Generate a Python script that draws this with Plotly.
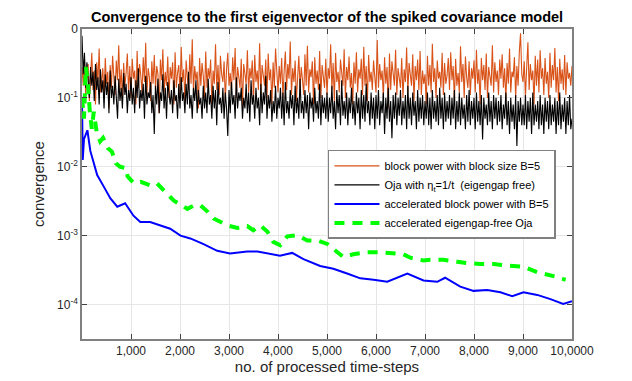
import plotly.graph_objects as go

# time steps for the two noisy (stochastic) curves
steps = list(range(0, 10001, 25))

block_power = [
    0.28, 0.15, 0.36, 0.11, 0.22, 0.31, 0.09, 0.19, 0.45, 0.13, 0.25, 0.08, 0.33, 0.17, 0.52, 0.12, 0.21, 0.27, 0.10, 0.38,
    0.16, 0.24, 0.07, 0.30, 0.14, 0.41, 0.20, 0.11, 0.35, 0.18, 0.58, 0.13, 0.26, 0.09, 0.32, 0.15, 0.23, 0.44, 0.12, 0.29,
    0.10, 0.37, 0.19, 0.25, 0.08, 0.48, 0.14, 0.31, 0.21, 0.12, 0.39, 0.17, 0.63, 0.11, 0.27, 0.20, 0.09, 0.34, 0.16, 0.42,
    0.13, 0.29, 0.22, 0.06, 0.36, 0.18, 0.51, 0.12, 0.24, 0.15, 0.40, 0.10, 0.28, 0.19, 0.33, 0.08, 0.46, 0.14, 0.23, 0.30,
    0.11, 0.55, 0.17, 0.26, 0.09, 0.35, 0.20, 0.13, 0.43, 0.16, 0.71, 0.12, 0.29, 0.18, 0.24, 0.07, 0.38, 0.15, 0.32, 0.21,
    0.10, 0.47, 0.14, 0.27, 0.19, 0.36, 0.08, 0.25, 0.16, 0.60, 0.13, 0.30, 0.11, 0.41, 0.22, 0.17, 0.34, 0.09, 0.26, 0.45,
    0.15, 0.23, 0.12, 0.39, 0.18, 0.53, 0.10, 0.28, 0.20, 0.14, 0.37, 0.07, 0.31, 0.24, 0.16, 0.49, 0.12, 0.27, 0.19, 0.35,
    0.09, 0.42, 0.17, 0.25, 0.13, 0.62, 0.11, 0.30, 0.21, 0.15, 0.36, 0.10, 0.44, 0.18, 0.26, 0.08, 0.33, 0.14, 0.52, 0.20,
    0.12, 0.29, 0.16, 0.38, 0.10, 0.24, 0.47, 0.13, 0.31, 0.19, 0.66, 0.11, 0.27, 0.17, 0.35, 0.09, 0.22, 0.41, 0.14, 0.28,
    0.18, 0.11, 0.43, 0.15, 0.57, 0.12, 0.26, 0.20, 0.34, 0.08, 0.39, 0.16, 0.25, 0.13, 0.48, 0.10, 0.30, 0.21, 0.14, 0.37,
    0.11, 0.27, 0.19, 0.60, 0.13, 0.32, 0.09, 0.45, 0.17, 0.24, 0.12, 0.36, 0.20, 0.15, 0.51, 0.10, 0.28, 0.18, 0.40, 0.14,
    0.23, 0.08, 0.33, 0.16, 0.46, 0.12, 0.26, 0.19, 0.37, 0.11, 0.55, 0.15, 0.29, 0.09, 0.42, 0.17, 0.24, 0.13, 0.35, 0.20,
    0.12, 0.69, 0.14, 0.31, 0.18, 0.25, 0.10, 0.39, 0.16, 0.28, 0.07, 0.44, 0.13, 0.34, 0.21, 0.15, 0.50, 0.11, 0.27, 0.19,
    0.14, 0.38, 0.10, 0.26, 0.17, 0.54, 0.12, 0.32, 0.20, 0.15, 0.43, 0.09, 0.29, 0.18, 0.36, 0.13, 0.48, 0.11, 0.25, 0.16,
    0.22, 0.08, 0.41, 0.15, 0.30, 0.12, 0.61, 0.17, 0.27, 0.10, 0.35, 0.19, 0.24, 0.14, 0.45, 0.11, 0.32, 0.16, 0.21, 0.38,
    0.13, 0.46, 0.18, 0.29, 0.09, 0.37, 0.15, 0.23, 0.12, 0.56, 0.17, 0.31, 0.10, 0.40, 0.20, 0.14, 0.34, 0.11, 0.27, 0.19,
    0.35, 0.12, 0.50, 0.16, 0.26, 0.08, 0.38, 0.18, 0.30, 0.13, 0.44, 0.10, 0.28, 0.21, 0.15, 0.58, 0.12, 0.33, 0.17, 0.25,
    0.11, 0.36, 0.19, 0.43, 0.14, 0.27, 0.09, 0.32, 0.16, 0.52, 0.12, 0.24, 0.20, 0.39, 0.10, 0.29, 0.15, 0.47, 0.87, 0.22,
    0.17, 0.34, 0.10, 0.28, 0.64, 0.13, 0.31, 0.18, 0.25, 0.08, 0.41, 0.15, 0.36, 0.12, 0.49, 0.19, 0.27, 0.11, 0.38, 0.16,
    0.24, 0.10, 0.45, 0.14, 0.30, 0.18, 0.53, 0.12, 0.28, 0.09, 0.37, 0.16, 0.26, 0.13, 0.42, 0.11, 0.33, 0.19, 0.23, 0.15,
    0.29,
]

oja = [
    0.80, 0.22, 0.45, 0.14, 0.33, 0.19, 0.10, 0.28, 0.15, 0.24, 0.09, 0.31, 0.13, 0.20, 0.08, 0.26, 0.12, 0.18, 0.07, 0.22,
    0.11, 0.17, 0.06, 0.25, 0.10, 0.15, 0.08, 0.21, 0.12, 0.05, 0.19, 0.09, 0.14, 0.07, 0.23, 0.11, 0.16, 0.06, 0.13, 0.09,
    0.20, 0.08, 0.14, 0.06, 0.18, 0.10, 0.27, 0.07, 0.13, 0.09, 0.16, 0.05, 0.21, 0.08, 0.12, 0.10, 0.17, 0.06, 0.11, 0.03,
    0.15, 0.08, 0.19, 0.06, 0.12, 0.09, 0.22, 0.07, 0.14, 0.05, 0.17, 0.10, 0.08, 0.13, 0.06, 0.18, 0.09, 0.11, 0.05, 0.16,
    0.07, 0.20, 0.09, 0.12, 0.06, 0.16, 0.08, 0.24, 0.07, 0.11, 0.05, 0.14, 0.09, 0.18, 0.06, 0.13, 0.08, 0.10, 0.05, 0.15,
    0.07, 0.12, 0.06, 0.19, 0.08, 0.11, 0.05, 0.15, 0.07, 0.13, 0.04, 0.17, 0.08, 0.10, 0.06, 0.14, 0.05, 0.12, 0.07, 0.028,
    0.13, 0.06, 0.17, 0.08, 0.11, 0.05, 0.20, 0.07, 0.12, 0.09, 0.14, 0.05, 0.10, 0.07, 0.16, 0.06, 0.12, 0.045, 0.18, 0.08,
    0.11, 0.05, 0.14, 0.07, 0.10, 0.04, 0.16, 0.06, 0.12, 0.08, 0.21, 0.05, 0.11, 0.07, 0.13, 0.045, 0.09, 0.06, 0.15, 0.05,
    0.10, 0.07, 0.14, 0.05, 0.12, 0.04, 0.17, 0.06, 0.09, 0.05, 0.13, 0.07, 0.11, 0.04, 0.15, 0.06, 0.10, 0.05, 0.19, 0.06,
    0.09, 0.05, 0.13, 0.06, 0.11, 0.035, 0.12, 0.07, 0.10, 0.045, 0.14, 0.06, 0.09, 0.05, 0.16, 0.04, 0.11, 0.06, 0.10, 0.05,
    0.12, 0.045, 0.10, 0.06, 0.15, 0.05, 0.09, 0.035, 0.13, 0.06, 0.11, 0.04, 0.18, 0.055, 0.09, 0.05, 0.12, 0.04, 0.10, 0.06,
    0.14, 0.05, 0.09, 0.04, 0.12, 0.06, 0.10, 0.035, 0.13, 0.05, 0.11, 0.045, 0.16, 0.06, 0.09, 0.04, 0.12, 0.05, 0.10, 0.035,
    0.11, 0.05, 0.13, 0.04, 0.09, 0.06, 0.12, 0.03, 0.10, 0.05, 0.14, 0.045, 0.09, 0.026, 0.11, 0.05, 0.12, 0.04, 0.10, 0.055,
    0.13, 0.04, 0.09, 0.05, 0.11, 0.035, 0.15, 0.05, 0.10, 0.04, 0.12, 0.055, 0.09, 0.035, 0.13, 0.045, 0.10, 0.05, 0.11, 0.04,
    0.09, 0.05, 0.12, 0.04, 0.10, 0.035, 0.13, 0.05, 0.09, 0.045, 0.11, 0.04, 0.14, 0.05, 0.10, 0.035, 0.12, 0.045, 0.09, 0.05,
    0.11, 0.04, 0.10, 0.05, 0.13, 0.035, 0.09, 0.045, 0.12, 0.04, 0.10, 0.05, 0.08, 0.035, 0.11, 0.045, 0.13, 0.04, 0.09, 0.05,
    0.10, 0.035, 0.12, 0.045, 0.09, 0.04, 0.11, 0.025, 0.10, 0.05, 0.08, 0.04, 0.12, 0.045, 0.09, 0.035, 0.11, 0.05, 0.10, 0.04,
    0.09, 0.045, 0.11, 0.035, 0.08, 0.05, 0.12, 0.04, 0.09, 0.03, 0.10, 0.045, 0.08, 0.035, 0.11, 0.02, 0.09, 0.045, 0.10, 0.04,
    0.08, 0.04, 0.11, 0.035, 0.09, 0.045, 0.10, 0.03, 0.12, 0.04, 0.08, 0.045, 0.09, 0.035, 0.11, 0.04, 0.08, 0.03, 0.10, 0.045,
    0.09, 0.035, 0.11, 0.04, 0.08, 0.045, 0.10, 0.03, 0.09, 0.04, 0.12, 0.035, 0.08, 0.045, 0.10, 0.03, 0.09, 0.04, 0.11, 0.035,
    0.05,
]

acc_block_t = [
    0, 15, 40, 110, 170, 310, 430, 580, 720, 880,
    1050, 1190, 1390, 1600, 1800, 2010, 2210, 2470, 2760, 3020,
    3370, 3580, 3780, 4040, 4290, 4520, 4860, 5130, 5410, 5680,
    5950, 6230, 6640, 6970, 7250, 7410, 7720, 7990, 8270, 8540,
    8780, 9010, 9290, 9560, 9820, 10000,
]
acc_block = [
    0.1, 0.0126, 0.0251, 0.0339, 0.0170, 0.00759, 0.00537, 0.00347, 0.00263, 0.00295,
    0.00195, 0.00158, 0.00158, 0.00141, 0.00126, 0.00100, 0.000912, 0.000759, 0.000603, 0.000550,
    0.000589, 0.000589, 0.000550, 0.000513, 0.000562, 0.000457, 0.000363, 0.000331, 0.000282, 0.000240,
    0.000229, 0.000214, 0.000282, 0.000224, 0.000214, 0.000245, 0.000182, 0.000158, 0.000162, 0.000151,
    0.000132, 0.000151, 0.000138, 0.000120, 0.000102, 0.000112,
]

acc_oja_t = [
    0, 40, 80, 120, 160, 200, 240, 300, 370, 430,
    530, 610, 690, 780, 900, 930, 1060, 1200, 1390, 1530,
    1650, 1740, 1870, 2040, 2150, 2290, 2420, 2560, 2684, 2966,
    3170, 3374, 3496, 3638, 3781, 3904, 4047, 4190, 4394, 4598,
    4802, 5006, 5210, 5333, 5537, 5823, 6088, 6354, 6558, 6701,
    6966, 7109, 7374, 7660, 7864, 8129, 8395, 8599, 8885, 9007,
    9293, 9497, 9701, 9824, 9870,
]
acc_oja = [
    0.1, 0.0501, 0.282, 0.158, 0.0631, 0.0355, 0.0631, 0.0316, 0.0234, 0.0263,
    0.0186, 0.0166, 0.0112, 0.0100, 0.00955, 0.00724, 0.00575, 0.00603, 0.00537, 0.00575,
    0.00468, 0.00407, 0.00324, 0.00275, 0.00245, 0.00275, 0.00275, 0.00224, 0.00178, 0.00141,
    0.00129, 0.00138, 0.00120, 0.00141, 0.00115, 0.000813, 0.000724, 0.000977, 0.00102, 0.000851,
    0.000851, 0.000759, 0.000589, 0.000490, 0.000537, 0.000575, 0.000575, 0.000550, 0.000537, 0.000479,
    0.000437, 0.000447, 0.000447, 0.000417, 0.000398, 0.000389, 0.000389, 0.000372, 0.000355, 0.000355,
    0.000295, 0.000275, 0.000251, 0.000234, 0.000229,
]

x_ticks = [1000, 2000, 3000, 4000, 5000, 6000, 7000, 8000, 9000, 10000]
x_ticktext = ["1,000", "2,000", "3,000", "4,000", "5,000", "6,000", "7,000",
              "8,000", "9,000", "10,0000"]
y_ticks = [1e-4, 1e-3, 1e-2, 1e-1, 1]
y_ticktext = ["10<sup>-4</sup>", "10<sup>-3</sup>", "10<sup>-2</sup>",
              "10<sup>-1</sup>", "0"]

font = "Liberation Sans, Arial, sans-serif"

fig = go.Figure()
fig.add_trace(go.Scatter(x=steps, y=block_power, mode="lines",
                         name="block power with block size B=5",
                         line=dict(color="#D95319", width=1.1)))
fig.add_trace(go.Scatter(x=steps, y=oja, mode="lines",
                         name="Oja with η<sub>t</sub>=1/t\u00a0\u00a0(eigengap free)",
                         line=dict(color="black", width=1.1)))
fig.add_trace(go.Scatter(x=acc_block_t, y=acc_block, mode="lines",
                         name="accelerated block power with B=5",
                         line=dict(color="#0000FF", width=2)))
fig.add_trace(go.Scatter(x=acc_oja_t, y=acc_oja, mode="lines",
                         name="accelerated eigengap-free Oja",
                         line=dict(color="#00FF00", width=4, dash="10px,8px")))

axis_style = dict(
    showline=True, linecolor="#808080", linewidth=1.5, mirror="ticks",
    ticks="inside", ticklen=5, tickcolor="#404040", automargin=False,
    showgrid=True, gridcolor="#e6e6e6", gridwidth=1, zeroline=False,
    tickfont=dict(family=font, size=12, color="#262626"),
)

# the page body has an 8px margin, so the figure is 8px smaller than the window
fig.update_layout(
    width=624, height=373,
    margin=dict(l=74, r=60, t=21, b=42),
    paper_bgcolor="white", plot_bgcolor="white",
    font=dict(family=font, color="#262626"),
    title=dict(text="<b>Convergence to the first eigenvector of the spiked covariance model</b>",
               x=0.5, xref="paper", y=0.975, yanchor="middle",
               font=dict(family=font, size=14.5, color="black")),
    xaxis=dict(range=[0, 10000], tickvals=x_ticks, ticktext=x_ticktext,
               title=dict(text="no. of processed time-steps", standoff=4,
                          font=dict(family=font, size=15, color="#262626")),
               **axis_style),
    yaxis=dict(type="log", range=[-4.5, 0], tickvals=y_ticks, ticktext=y_ticktext,
               title=dict(text="convergence", standoff=9,
                          font=dict(family=font, size=15, color="#262626")),
               **axis_style),
    legend=dict(x=0.502, y=0.61, xanchor="left", yanchor="top",
                bgcolor="white", bordercolor="#808080", borderwidth=1.5,
                font=dict(family=font, size=11, color="black"),
                itemwidth=45, tracegroupgap=0),
    showlegend=True,
)

fig.write_html("out.html")
